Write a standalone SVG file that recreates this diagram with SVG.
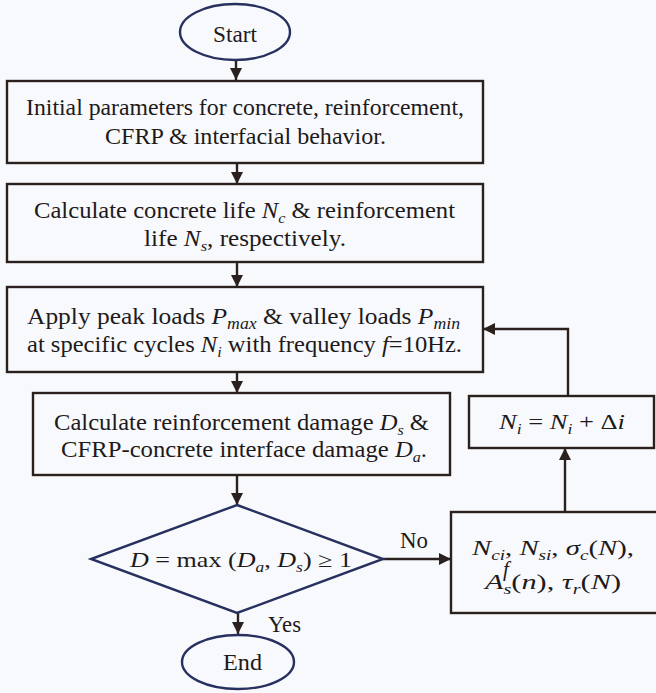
<svg xmlns="http://www.w3.org/2000/svg" width="656" height="693" viewBox="0 0 656 693">
<defs>
<style>
.bg{fill:#f8f9fd}
.box{fill:#f8f9fd;stroke:#2a201d;stroke-width:2.4}
.term{fill:#f8f9fd;stroke:#27305e;stroke-width:2.4}
.t{font-family:"Liberation Serif","Times New Roman",serif;font-size:23px;fill:#1e1a1a}
.m{font-family:"Liberation Serif","Times New Roman",serif;font-size:21px;fill:#1e1a1a}
.i{font-style:italic}
.conn{fill:none;stroke:#2a201d;stroke-width:2.4}
</style>
<marker id="ah" viewBox="0 0 10 10" refX="10" refY="5" markerWidth="5" markerHeight="5.5" orient="auto" markerUnits="strokeWidth">
<path d="M0,0 L10,5 L0,10 z" fill="#2a201d"/>
</marker>
</defs>
<rect class="bg" x="0" y="0" width="656" height="693"/>

<g id="connectors">
<line class="conn" x1="236" y1="60" x2="236" y2="80" marker-end="url(#ah)"/>
<line class="conn" x1="237" y1="163" x2="237" y2="184" marker-end="url(#ah)"/>
<line class="conn" x1="237" y1="262" x2="237" y2="287" marker-end="url(#ah)"/>
<line class="conn" x1="237" y1="372" x2="237" y2="393" marker-end="url(#ah)"/>
<line class="conn" x1="237" y1="475" x2="237" y2="505" marker-end="url(#ah)"/>
<line class="conn" x1="238" y1="613" x2="238" y2="634" marker-end="url(#ah)"/>
<line class="conn" x1="383" y1="559" x2="451" y2="559" marker-end="url(#ah)"/>
<line class="conn" x1="565" y1="512" x2="565" y2="448" marker-end="url(#ah)"/>
<polyline class="conn" points="568,396 568,329 483,329" marker-end="url(#ah)"/>
<text class="t" x="400" y="548" textLength="28" lengthAdjust="spacingAndGlyphs">No</text>
<text class="t" x="268" y="632" textLength="33" lengthAdjust="spacingAndGlyphs">Yes</text>
</g>

<g id="start">
<ellipse class="term" cx="235" cy="32" rx="55" ry="28"/>
<text class="t" x="213" y="42" textLength="44" lengthAdjust="spacingAndGlyphs">Start</text>
</g>

<g id="init">
<rect class="box" x="7" y="81" width="476" height="82"/>
<text class="t" x="26" y="115" textLength="438" lengthAdjust="spacingAndGlyphs">Initial parameters for concrete, reinforcement,</text>
<text class="t" x="105" y="144" textLength="281" lengthAdjust="spacingAndGlyphs">CFRP &amp; interfacial behavior.</text>
</g>

<g id="life">
<rect class="box" x="7" y="184" width="476" height="78"/>
<text class="t" x="34" y="218" textLength="421" lengthAdjust="spacingAndGlyphs">Calculate concrete life  <tspan class="i">N</tspan><tspan class="i" font-size="15" dy="5">c</tspan><tspan dy="-5">  &amp; reinforcement</tspan></text>
<text class="t" x="144" y="246" textLength="202" lengthAdjust="spacingAndGlyphs">life  <tspan class="i">N</tspan><tspan class="i" font-size="15" dy="5">s</tspan><tspan dy="-5">, respectively.</tspan></text>
</g>

<g id="loads">
<rect class="box" x="7" y="287" width="476" height="85"/>
<text class="t" x="27" y="324" textLength="433" lengthAdjust="spacingAndGlyphs">Apply peak loads  <tspan class="i">P</tspan><tspan class="i" font-size="16" dy="5">max</tspan><tspan dy="-5">  &amp; valley loads  </tspan><tspan class="i">P</tspan><tspan class="i" font-size="16" dy="5">min</tspan></text>
<text class="t" x="27" y="352" textLength="435" lengthAdjust="spacingAndGlyphs">at specific cycles  <tspan class="i">N</tspan><tspan class="i" font-size="15" dy="5">i</tspan><tspan dy="-5">  with frequency </tspan><tspan class="i">f</tspan>=10Hz.</text>
</g>

<g id="damage">
<rect class="box" x="33" y="393" width="417" height="82"/>
<text class="t" x="54" y="430" textLength="375" lengthAdjust="spacingAndGlyphs">Calculate reinforcement damage  <tspan class="i">D</tspan><tspan class="i" font-size="15" dy="5">s</tspan><tspan dy="-5">  &amp;</tspan></text>
<text class="t" x="61" y="457" textLength="366" lengthAdjust="spacingAndGlyphs">CFRP-concrete interface damage  <tspan class="i">D</tspan><tspan class="i" font-size="15" dy="5">a</tspan><tspan dy="-5">.</tspan></text>
</g>

<g id="decision">
<polygon class="term" points="237,505 383,559 237,613 91,559"/>
<text class="m" x="130" y="567" textLength="222" lengthAdjust="spacingAndGlyphs"><tspan class="i">D</tspan> = max (<tspan class="i">D</tspan><tspan class="i" font-size="14" dy="5">a</tspan><tspan dy="-5">, </tspan><tspan class="i">D</tspan><tspan class="i" font-size="14" dy="5">s</tspan><tspan dy="-5">) ≥ 1</tspan></text>
</g>

<g id="end">
<ellipse class="term" cx="238" cy="662" rx="56" ry="27"/>
<text class="t" x="223" y="670" textLength="39" lengthAdjust="spacingAndGlyphs">End</text>
</g>

<g id="update">
<rect class="box" x="469" y="396" width="185" height="52"/>
<text class="m" x="499" y="429" textLength="126" lengthAdjust="spacingAndGlyphs"><tspan class="i">N</tspan><tspan class="i" font-size="14" dy="5">i</tspan><tspan dy="-5"> = </tspan><tspan class="i">N</tspan><tspan class="i" font-size="14" dy="5">i</tspan><tspan dy="-5"> + Δ</tspan><tspan class="i">i</tspan></text>
</g>

<g id="params">
<rect class="box" x="451" y="512" width="212" height="101"/>
<text class="m" x="472" y="555" textLength="162" lengthAdjust="spacingAndGlyphs"><tspan class="i">N</tspan><tspan class="i" font-size="14" dy="5">ci</tspan><tspan dy="-5">,  </tspan><tspan class="i">N</tspan><tspan class="i" font-size="14" dy="5">si</tspan><tspan dy="-5">,  </tspan><tspan class="i">σ</tspan><tspan class="i" font-size="14" dy="5">c</tspan><tspan dy="-5">(</tspan><tspan class="i">N</tspan>),</text>
<text class="m" x="485" y="589" textLength="136" lengthAdjust="spacingAndGlyphs"><tspan class="i">A</tspan><tspan class="i" font-size="14" dy="5">s</tspan><tspan dy="-5">(</tspan><tspan class="i">n</tspan>),  <tspan class="i">τ</tspan><tspan class="i" font-size="14" dy="5">r</tspan><tspan dy="-5">(</tspan><tspan class="i">N</tspan>)</text>
<text class="m i" x="503" y="576" font-size="13">f</text>
</g>
</svg>
